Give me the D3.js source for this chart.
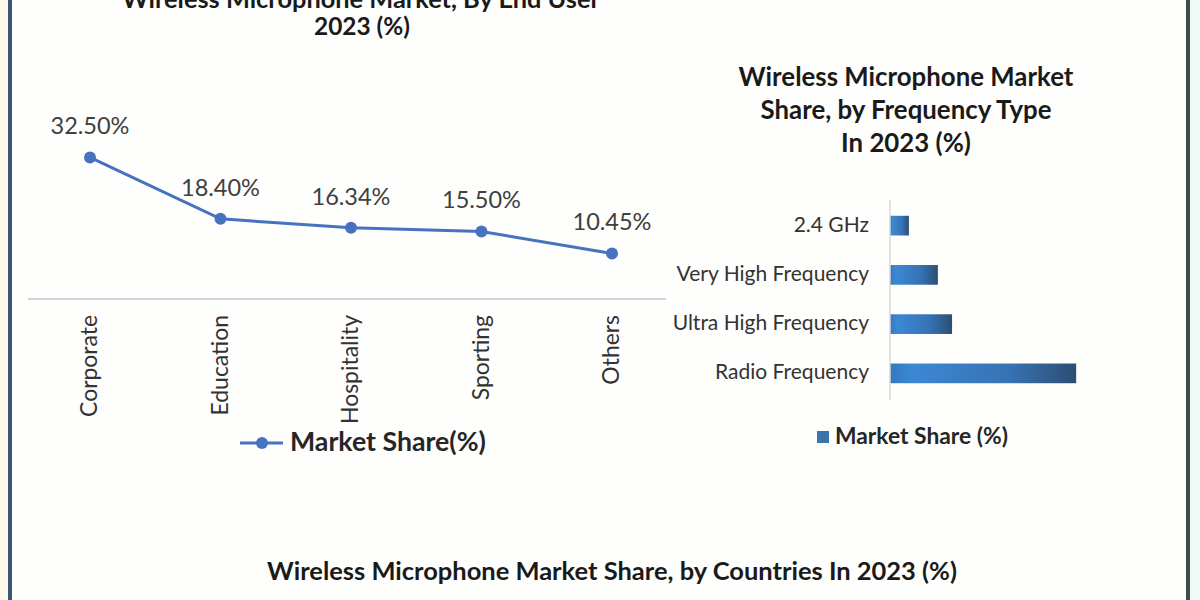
<!DOCTYPE html>
<html><head><meta charset="utf-8">
<script src="https://cdn.jsdelivr.net/npm/d3@7"></script>
<style>body{margin:0;background:#fff}svg{display:block}</style></head>
<body>
<svg id="c" width="1200" height="600"></svg>
<script>
// ---- data ----
const endUserCats = ["Corporate", "Education", "Hospitality", "Sporting", "Others"];
const endUserShare = [32.50, 18.40, 16.34, 15.50, 10.45];
const endUserLabels = ["32.50%", "18.40%", "16.34%", "15.50%", "10.45%"];
const freqCats = ["2.4 GHz", "Very High Frequency", "Ultra High Frequency", "Radio Frequency"];
const freqShare = [6.0, 15.2, 19.7, 59.1];
const titleEndUser = ["Wireless Microphone Market, By End User", "2023 (%)"];
const titleFreq = ["Wireless Microphone Market", "Share, by Frequency Type", "In 2023 (%)"];
const titleCountries = "Wireless Microphone Market Share, by Countries In 2023 (%)";
const seriesName1 = "Market Share(%)";
const seriesName2 = "Market Share (%)";

const FONT = "Lato, 'Open Sans', sans-serif";
const svg = d3.select("#c");

function fit(sel, target) {
  sel.each(function () {
    const fs = parseFloat(this.getAttribute("font-size"));
    const w = this.getComputedTextLength();
    if (w > 0) this.setAttribute("font-size", (fs * target / w).toFixed(2));
  });
  return sel;
}

// ---- background & frame ----
svg.append("rect").attr("width", 1200).attr("height", 600).attr("fill", "#fefefc");
svg.append("rect").attr("x", 0).attr("y", 0).attr("width", 9).attr("height", 600).attr("fill", "#fdf9ea");
svg.append("rect").attr("x", 1190).attr("y", 0).attr("width", 10).attr("height", 600).attr("fill", "#eefaf6");
svg.append("line").attr("x1", 10).attr("x2", 10).attr("y1", 0).attr("y2", 600)
  .attr("stroke", "#3c5573").attr("stroke-width", 4);
svg.append("line").attr("x1", 1188).attr("x2", 1188).attr("y1", 0).attr("y2", 600)
  .attr("stroke", "#3b4e50").attr("stroke-width", 4);

// ---- left chart: line ----
const x1 = d3.scalePoint().domain(endUserCats).range([90, 612]);
const y1 = d3.scaleLinear().domain([0, 36.5]).range([299, 140]);

const tl = svg.append("g").attr("font-family", FONT).attr("font-weight", 700)
  .attr("fill", "#1a1a1a").attr("text-anchor", "middle");
tl.append("text").attr("x", 361).attr("y", 8).attr("font-size", 22).text(titleEndUser[0]).call(fit, 478);
tl.append("text").attr("x", 362).attr("y", 35).attr("font-size", 22).text(titleEndUser[1]).call(fit, 96);

svg.append("line").attr("x1", 28).attr("x2", 666).attr("y1", y1(0)).attr("y2", y1(0))
  .attr("stroke", "#d4d4d4").attr("stroke-width", 2);

const line = d3.line().x((d, i) => x1(endUserCats[i])).y(d => y1(d));
svg.append("path").datum(endUserShare).attr("d", line)
  .attr("fill", "none").attr("stroke", "#4672bf").attr("stroke-width", 3);
svg.append("g").selectAll("circle").data(endUserShare).join("circle")
  .attr("cx", (d, i) => x1(endUserCats[i])).attr("cy", d => y1(d)).attr("r", 6)
  .attr("fill", "#4672bf");
svg.append("g").attr("font-family", FONT).attr("fill", "#404040").attr("text-anchor", "middle")
  .selectAll("text").data(endUserShare).join("text")
  .attr("x", (d, i) => x1(endUserCats[i])).attr("y", d => y1(d) - 23)
  .attr("font-size", 20).text((d, i) => endUserLabels[i]).call(fit, 79);

const catG = svg.append("g").attr("font-family", FONT).attr("fill", "#333");
const catT = catG.selectAll("text").data(endUserCats).join("text")
  .attr("text-anchor", "end").attr("font-size", 20)
  .attr("transform", d => `translate(${x1(d) + 7},315) rotate(-90)`).text(d => d);
{
  const n = catT.nodes()[0];
  const fs = 20 * 102 / n.getComputedTextLength();
  catT.attr("font-size", fs.toFixed(2));
}

// legend left
svg.append("line").attr("x1", 240).attr("x2", 283).attr("y1", 443).attr("y2", 443)
  .attr("stroke", "#4672bf").attr("stroke-width", 3);
svg.append("circle").attr("cx", 262).attr("cy", 443).attr("r", 6).attr("fill", "#4672bf");
svg.append("text").attr("x", 290).attr("y", 451).attr("font-family", FONT).attr("font-weight", 700)
  .attr("font-size", 22).attr("fill", "#262626").text(seriesName1).call(fit, 196);

// ---- right chart: bars ----
const tr = svg.append("g").attr("font-family", FONT).attr("font-weight", 700)
  .attr("fill", "#1a1a1a").attr("text-anchor", "middle");
const trLines = tr.selectAll("text").data(titleFreq).join("text")
  .attr("x", 906).attr("y", (d, i) => 86 + i * 33).attr("font-size", 22).text(d => d);
{
  const n = trLines.nodes()[0];
  const fs = 22 * 335 / n.getComputedTextLength();
  trLines.attr("font-size", fs.toFixed(2));
}

const defs = svg.append("defs");
const grad = defs.append("linearGradient").attr("id", "bg").attr("x1", 0).attr("x2", 1).attr("y1", 0).attr("y2", 0);
[[0, "#3478c0"], [0.12, "#3c88d4"], [0.65, "#3672b2"], [1, "#2c4e73"]].forEach(s =>
  grad.append("stop").attr("offset", s[0]).attr("stop-color", s[1]));

const x2 = d3.scaleLinear().domain([0, 60]).range([890, 1079]);
const y2 = d3.scaleBand().domain(freqCats).range([201, 398]).paddingInner(0.6).paddingOuter(0.3);

svg.append("g").selectAll("rect").data(freqShare).join("rect")
  .attr("x", x2(0)).attr("y", (d, i) => y2(freqCats[i]))
  .attr("width", d => x2(d) - x2(0)).attr("height", y2.bandwidth())
  .attr("fill", "url(#bg)");

svg.append("line").attr("x1", 890).attr("x2", 890).attr("y1", 200).attr("y2", 400)
  .attr("stroke", "#d9d9d9").attr("stroke-width", 1.5);

const bl = svg.append("g").attr("font-family", FONT).attr("fill", "#333").attr("text-anchor", "end")
  .selectAll("text").data(freqCats).join("text")
  .attr("x", 869).attr("y", d => y2(d) + y2.bandwidth() / 2 + 6)
  .attr("font-size", 20).text(d => d);
{
  const n = bl.nodes()[3];
  const fs = 20 * 154 / n.getComputedTextLength();
  bl.attr("font-size", fs.toFixed(2));
}

// legend right
svg.append("rect").attr("x", 817).attr("y", 431).attr("width", 12).attr("height", 12).attr("fill", "#3d74ad");
svg.append("text").attr("x", 835).attr("y", 444).attr("font-family", FONT).attr("font-weight", 700)
  .attr("font-size", 19).attr("fill", "#262626").text(seriesName2).call(fit, 173);

// ---- bottom title ----
svg.append("text").attr("x", 612).attr("y", 580).attr("text-anchor", "middle")
  .attr("font-family", FONT).attr("font-weight", 700).attr("font-size", 22).attr("fill", "#1a1a1a")
  .text(titleCountries).call(fit, 690);
</script>
</body></html>
